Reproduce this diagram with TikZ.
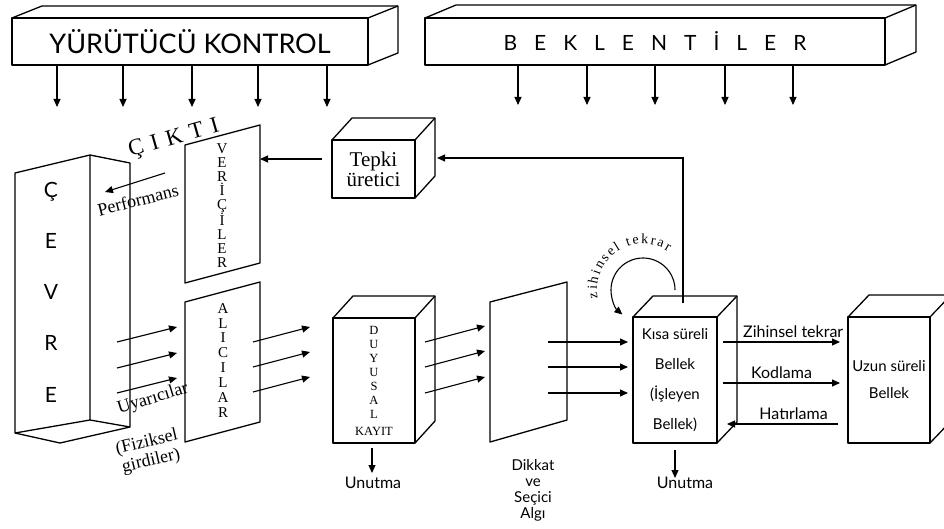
\documentclass[tikz,border=0pt]{standalone}
\usepackage{fontspec}
\setmainfont{Liberation Serif}
\setsansfont{Lato}
\usetikzlibrary{arrows.meta,calc,decorations.text}
\newcommand{\fsz}[2]{\fontsize{#1}{#2}\selectfont}
\newcommand{\wsp}[1]{\spaceskip=#1\relax}
% top and right faces behind a front-face node
\newcommand{\solidback}[3]{%
  \draw[wall] (#1.north west) -- ++(#2,#3) -- ($(#1.north east)+(#2,#3)$)
    -- ($(#1.south east)+(#2,#3)$) -- (#1.south east);
  \draw[wall] (#1.north east) -- ++(#2,#3);}

\begin{document}
\begin{tikzpicture}[x=1pt, y=-1pt,
  wall/.style={line width=1.3pt, line join=round},
  front/.style={wall, draw, rectangle, inner sep=0pt, outer sep=0pt, align=center},
  arr/.style={-{Triangle[length=8pt,width=7pt]}, line width=1.1pt},
  bar/.style={font=\sffamily\fsz{27}{30}},
  stack/.style={font=\fsz{15}{14}, align=center, inner sep=0pt},
  lbl/.style={font=\sffamily\fsz{16}{18}, inner sep=1pt},
  hand/.style={font=\fsz{18}{19}, align=center, inner sep=0pt}]
\useasboundingbox (0,0) rectangle (944,529);
\clip (0,0) rectangle (944,529);
% ---------------- control bars ----------------
\node[front, bar, minimum width=356pt, minimum height=47pt] (yk) at (190,41.5)
  {YÜRÜTÜCÜ KONTROL};
\solidback{yk}{30}{-12}
\node[front, font={\sffamily\fsz{21}{24}\wsp{17pt}},
  minimum width=460pt, minimum height=47pt] (bek) at (655,41.5)
  {B E K L E N T İ L E R};
\solidback{bek}{31}{-13}
\foreach \x in {45,111,180,246,315}
  \draw[arr] ($(yk.south west)+(\x,0)$) -- ++(0,42);
\foreach \x in {93,162,230,300,368}
  \draw[arr] ($(bek.south west)+(\x,0)$) -- ++(0,40);
% ---------------- environment ----------------
\draw[wall] (15,173) -- (90,155) -- (130,163) -- (130,427) -- (60,443)
  -- (15,433) -- cycle;
\draw[wall] (90,155) -- (90,420) -- (15,433) (90,420) -- (130,427);
\node[font=\sffamily\fsz{21}{51.3}, align=center, inner sep=0pt] (cevre)
  at (51,292) {Ç\\E\\V\\R\\E};
% ---------------- senders and receivers ----------------
\draw[wall] (185,145) coordinate (ver-nw) -- (260,125) coordinate (ver-ne)
  -- (260,263) -- (185,283) -- cycle;
\node[stack, anchor=north] (ver) at (222,143) {V\\E\\R\\İ\\Ç\\İ\\L\\E\\R};
\draw[wall] (185,302) coordinate (ali-nw) -- (260,282) coordinate (ali-ne)
  -- (260,422) -- (185,442) -- cycle;
\node[stack, font=\fsz{15}{14.9}, anchor=north] (ali) at (223,303)
  {A\\L\\I\\C\\I\\L\\A\\R};
\node[font={\fsz{23}{23}\wsp{8pt}}, rotate=16, inner sep=0pt] (cikti)
  at (174,139) {Ç I K T I};
\draw[arr] ($(ver-nw)+(-20,28)$) -- ++(-60,19);
\node[hand, rotate=14] (perf) at (138,200) {Performans};
\foreach \y in {40,66,91}
  \draw[arr] ($(ali-nw)+(-68,\y)$) -- ++(60,-15);
\node[hand, rotate=17] (uyar) at (153,399) {Uyarıcılar};
\node[hand, rotate=13] (fiz) at (149,452) {(Fiziksel\\girdiler)};
% ---------------- boxes ----------------
\node[front, minimum width=83pt, minimum height=58pt, font=\fsz{21}{20}]
  (tepki) at (373.5,169) {Tepki\\üretici};
\solidback{tepki}{20}{-22}
\node[front, minimum width=82pt, minimum height=125pt, font=\fsz{12.5}{14}]
  (duy) at (374,380.5) {D\\U\\Y\\U\\S\\A\\L\\[3pt]KAYIT};
\solidback{duy}{20}{-22}
\draw[wall] (490,302) coordinate (dik-nw) -- (567,282) coordinate (dik-ne)
  -- (567,420) -- (490,442) -- cycle;
\node[lbl, font=\sffamily\fsz{15}{16}, align=center, anchor=north] (dik)
  at (533,458) {Dikkat\\ve\\Seçici\\Algı};
\node[front, minimum width=84pt, minimum height=126pt,
  font=\sffamily\fsz{15}{30}] (kisa) at (675,380)
  {Kısa süreli\\Bellek\\(İşleyen\\Bellek)};
\solidback{kisa}{20}{-21}
\node[front, minimum width=82pt, minimum height=126pt,
  font=\sffamily\fsz{15}{27}] (uzun) at (889,380) {Uzun süreli\\Bellek};
\solidback{uzun}{21}{-22}
% ---------------- flow ----------------
\foreach \y in {60,85,110}
  \draw[arr] ($(ali-ne)+(-7,\y)$) -- ++(57,-15);
\foreach \y in {-38.5,-13.5,12.5}
  \draw[arr] ($(duy.east)+(10,\y)$) -- ++(60,-16);
\foreach \y in {-38,-13,13}
  \draw[arr] ($(kisa.west)+(-85,\y)$) -- ($(kisa.west)+(-5,\y)$);
\draw[arr] ($(duy.south)+(-2,5)$) -- ++(0,25);
\node[lbl] (un1) at ($(duy.south)+(-1,40)$) {Unutma};
\draw[arr] ($(kisa.south)+(0,7)$) -- ++(0,28);
\node[lbl] (un2) at ($(kisa.south)+(10,40)$) {Unutma};
\draw[arr] ($(kisa.east)+(6,-38)$) -- ($(uzun.west)+(-8,-38)$)
  node[lbl, pos=0.6, above=3pt] (zt) {Zihinsel tekrar};
\draw[arr] ($(kisa.east)+(6,3)$) -- ($(uzun.west)+(-8,3)$)
  node[lbl, pos=0.5, above=3pt] (kod) {Kodlama};
\draw[arr] ($(uzun.west)+(-10,44)$) -- ($(kisa.east)+(10,44)$)
  node[lbl, pos=0.4, above=3pt] (hat) {Hatırlama};
% response loop back to the senders
\draw[arr] ($(kisa.north)+(8,-14)$) |- ($(tepki.east)+(22,-11)$);
\draw[arr] (tepki.west) ++(-10,-10) coordinate (t0) -- (t0 -| ver-ne);
% rehearsal loop
\coordinate (loop) at ($(kisa.north west)+(10,-27)$);
\draw[arr] ([shift={(0:32pt)}]loop) arc[start angle=0, end angle=230, radius=32pt];
\path[decorate, decoration={text along path, text align=fit to path,
  text={|\fsz{14}{14}|zihinsel tekrar}}]
  ([shift={(190:46pt)}]loop) arc[start angle=190, end angle=57, radius=46pt];
\end{tikzpicture}
\end{document}
